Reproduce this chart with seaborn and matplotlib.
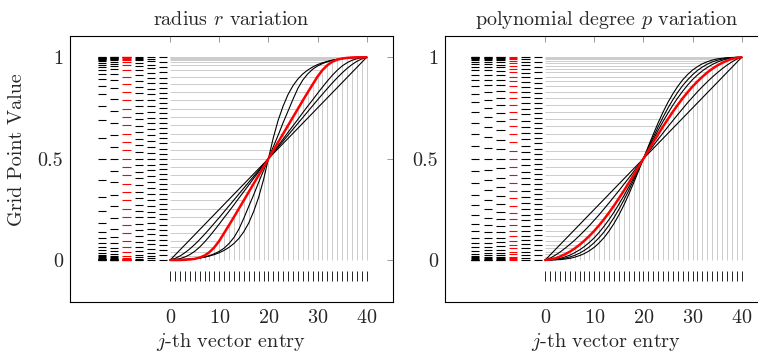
import numpy as np
import pandas as pd
import matplotlib
matplotlib.use("Agg")
import matplotlib.pyplot as plt
import seaborn as sns

sns.set_theme(style="white")
plt.rcParams.update({
    "font.family": "serif",
    "font.serif": ["cmr10"],
    "mathtext.fontset": "cm",
    "axes.unicode_minus": False,
    "axes.formatter.use_mathtext": True,
})

# ---------------- data ----------------
j_entries = np.arange(41)  # vector entry index j = 0..40

# left panel: radius r variation (steepest -> linear), index 2 is the red curve
radius_1 = [0.000, 0.001, 0.002, 0.003, 0.005, 0.007, 0.010, 0.014, 0.020, 0.027, 0.036, 0.048, 0.063, 0.082, 0.107, 0.140, 0.183, 0.240, 0.309, 0.396, 0.500, 0.604, 0.691, 0.760, 0.817, 0.860, 0.893, 0.918, 0.937, 0.952, 0.964, 0.973, 0.980, 0.986, 0.990, 0.993, 0.995, 0.997, 0.998, 0.999, 1.000]
radius_2 = [0.000, 0.000, 0.001, 0.002, 0.004, 0.007, 0.010, 0.015, 0.022, 0.031, 0.043, 0.059, 0.082, 0.112, 0.153, 0.207, 0.265, 0.322, 0.383, 0.441, 0.500, 0.559, 0.617, 0.678, 0.735, 0.793, 0.847, 0.888, 0.918, 0.941, 0.957, 0.969, 0.978, 0.985, 0.990, 0.993, 0.996, 0.998, 0.999, 1.000, 1.000]
radius_3 = [0.000, 0.000, 0.000, 0.001, 0.003, 0.006, 0.012, 0.022, 0.039, 0.063, 0.095, 0.134, 0.173, 0.213, 0.254, 0.295, 0.336, 0.377, 0.418, 0.459, 0.500, 0.541, 0.582, 0.623, 0.664, 0.705, 0.746, 0.787, 0.827, 0.866, 0.905, 0.937, 0.961, 0.978, 0.988, 0.994, 0.997, 0.999, 1.000, 1.000, 1.000]
radius_4 = [0.000, 0.002, 0.007, 0.015, 0.027, 0.043, 0.064, 0.089, 0.117, 0.147, 0.178, 0.210, 0.241, 0.273, 0.306, 0.338, 0.370, 0.403, 0.435, 0.468, 0.500, 0.532, 0.565, 0.597, 0.630, 0.662, 0.694, 0.727, 0.759, 0.790, 0.822, 0.853, 0.883, 0.911, 0.936, 0.957, 0.973, 0.985, 0.993, 0.998, 1.000]
radius_5 = [0.000, 0.008, 0.020, 0.036, 0.055, 0.077, 0.101, 0.127, 0.154, 0.182, 0.210, 0.239, 0.268, 0.297, 0.326, 0.355, 0.384, 0.413, 0.442, 0.471, 0.500, 0.529, 0.558, 0.587, 0.616, 0.645, 0.674, 0.703, 0.732, 0.761, 0.790, 0.818, 0.846, 0.873, 0.899, 0.923, 0.945, 0.964, 0.980, 0.992, 1.000]
radius_6 = [0.000, 0.025, 0.050, 0.075, 0.100, 0.125, 0.150, 0.175, 0.200, 0.225, 0.250, 0.275, 0.300, 0.325, 0.350, 0.375, 0.400, 0.425, 0.450, 0.475, 0.500, 0.525, 0.550, 0.575, 0.600, 0.625, 0.650, 0.675, 0.700, 0.725, 0.750, 0.775, 0.800, 0.825, 0.850, 0.875, 0.900, 0.925, 0.950, 0.975, 1.000]

# right panel: polynomial degree p variation (steepest -> linear), index 3 is the red curve
degree_1 = [0.000, 0.000, 0.001, 0.002, 0.005, 0.008, 0.014, 0.022, 0.032, 0.046, 0.063, 0.085, 0.111, 0.143, 0.180, 0.222, 0.270, 0.323, 0.380, 0.439, 0.500, 0.561, 0.620, 0.677, 0.730, 0.778, 0.820, 0.857, 0.889, 0.915, 0.937, 0.954, 0.968, 0.978, 0.986, 0.992, 0.995, 0.998, 0.999, 1.000, 1.000]
degree_2 = [0.000, 0.000, 0.002, 0.004, 0.009, 0.015, 0.023, 0.034, 0.048, 0.065, 0.086, 0.111, 0.139, 0.172, 0.209, 0.250, 0.295, 0.343, 0.394, 0.446, 0.500, 0.554, 0.606, 0.657, 0.705, 0.750, 0.791, 0.828, 0.861, 0.889, 0.914, 0.935, 0.952, 0.966, 0.977, 0.985, 0.991, 0.996, 0.998, 1.000, 1.000]
degree_3 = [0.000, 0.001, 0.004, 0.008, 0.015, 0.024, 0.036, 0.050, 0.067, 0.087, 0.110, 0.137, 0.167, 0.200, 0.236, 0.275, 0.316, 0.360, 0.406, 0.453, 0.500, 0.547, 0.594, 0.640, 0.684, 0.725, 0.764, 0.800, 0.833, 0.863, 0.890, 0.913, 0.933, 0.950, 0.964, 0.976, 0.985, 0.992, 0.996, 0.999, 1.000]
degree_4 = [0.000, 0.003, 0.008, 0.017, 0.028, 0.041, 0.057, 0.075, 0.096, 0.119, 0.144, 0.172, 0.202, 0.234, 0.268, 0.304, 0.341, 0.380, 0.419, 0.460, 0.500, 0.540, 0.581, 0.620, 0.659, 0.696, 0.732, 0.766, 0.798, 0.828, 0.856, 0.881, 0.904, 0.925, 0.943, 0.959, 0.972, 0.983, 0.992, 0.997, 1.000]
degree_5 = [0.000, 0.009, 0.023, 0.039, 0.057, 0.077, 0.098, 0.121, 0.145, 0.170, 0.197, 0.224, 0.253, 0.282, 0.312, 0.342, 0.373, 0.404, 0.436, 0.468, 0.500, 0.532, 0.564, 0.596, 0.627, 0.658, 0.688, 0.718, 0.747, 0.776, 0.803, 0.830, 0.855, 0.879, 0.902, 0.923, 0.943, 0.961, 0.977, 0.991, 1.000]
degree_6 = [0.000, 0.025, 0.050, 0.075, 0.100, 0.125, 0.150, 0.175, 0.200, 0.225, 0.250, 0.275, 0.300, 0.325, 0.350, 0.375, 0.400, 0.425, 0.450, 0.475, 0.500, 0.525, 0.550, 0.575, 0.600, 0.625, 0.650, 0.675, 0.700, 0.725, 0.750, 0.775, 0.800, 0.825, 0.850, 0.875, 0.900, 0.925, 0.950, 0.975, 1.000]

x_ticks = [0, 10, 20, 30, 40]
y_ticks = [0, 0.5, 1]
y_ticklabels = ["0", "0.5", "1"]
titles = ["radius $r$ variation", "polynomial degree $p$ variation"]
x_label = "$j$-th vector entry"
y_label = "Grid Point Value"

# ---------------- layout ----------------
left_curves = [radius_1, radius_2, radius_3, radius_4, radius_5, radius_6]
right_curves = [degree_1, degree_2, degree_3, degree_4, degree_5, degree_6]
left_cols = [-13.9, -11.4, -8.9, -6.4, -3.9, -1.4]
right_cols = [-14.3, -11.7, -9.1, -6.5, -4.0, -1.5]
FS = 14.5

fig = plt.figure(figsize=(7.58, 3.59), dpi=100)
axL = fig.add_axes([70/758, 57/359, 322.7/758, 266/359])
axR = fig.add_axes([445/758, 57/359, 322.7/758, 266/359])


def draw(ax, curves, red_idx, cols, title):
    curves = [np.asarray(c) for c in curves]
    red = curves[red_idx]
    ax.vlines(j_entries, 0, red, color="#cccccc", lw=0.7, zorder=1)
    ax.hlines(red, 0, j_entries, color="#cccccc", lw=0.7, zorder=1)
    for i, c in enumerate(curves):
        if i == red_idx:
            continue
        df = pd.DataFrame({"j": j_entries, "value": c})
        sns.lineplot(data=df, x="j", y="value", color="black", lw=0.8,
                     ax=ax, zorder=3)
    df = pd.DataFrame({"j": j_entries, "value": red})
    sns.lineplot(data=df, x="j", y="value", color="#ff0000", lw=1.8,
                 ax=ax, zorder=4)
    for i, c in enumerate(curves):
        col = "#ff0000" if i == red_idx else "black"
        ax.hlines(c, cols[i] - 0.85, cols[i] + 0.85, color=col, lw=0.8,
                  zorder=3)
    ax.vlines(j_entries, -0.102, -0.053, color="black", lw=0.6)
    ax.set_xlim(-20.4, 45.3)
    ax.set_ylim(-0.207, 1.105)
    ax.set_xticks(x_ticks)
    ax.set_yticks(y_ticks)
    ax.set_yticklabels(y_ticklabels)
    ax.tick_params(direction="in", length=4, width=0.5, color="0.45",
                   top=True, right=True, labelsize=FS, pad=5)
    for s in ax.spines.values():
        s.set_linewidth(0.8)
        s.set_color("black")
    ax.set_xlabel(x_label, fontsize=FS, labelpad=3)
    ax.set_ylabel("")
    ax.set_title(title, fontsize=FS, pad=8)


draw(axL, left_curves, 2, left_cols, titles[0])
draw(axR, right_curves, 3, right_cols, titles[1])
axL.set_ylabel(y_label, fontsize=FS)
axL.yaxis.set_label_coords(-0.136, 0.574)

fig.savefig("out.png", dpi=100)
